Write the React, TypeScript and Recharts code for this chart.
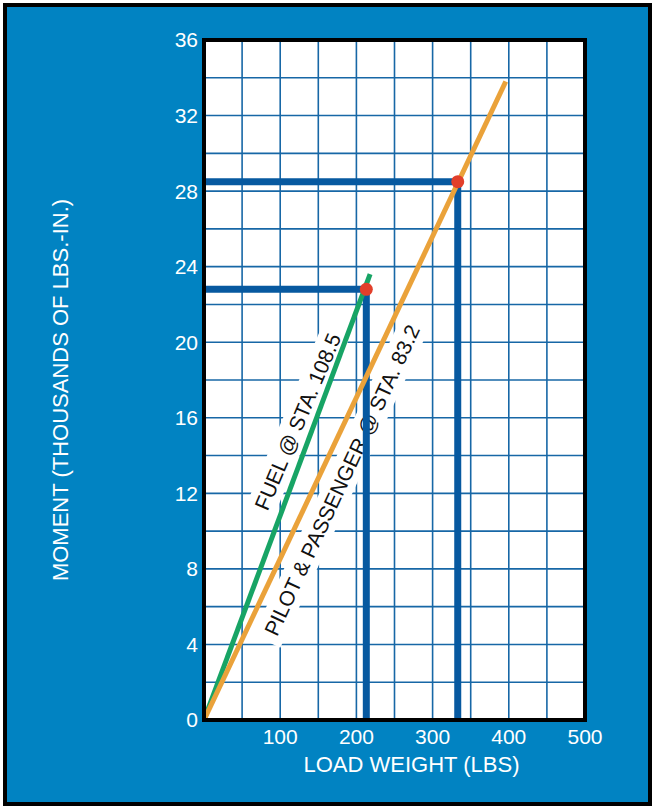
import React from 'react';
import {
  LineChart, Line, XAxis, YAxis, CartesianGrid, ReferenceDot, ReferenceArea, Label,
} from 'recharts';

const xTicks = [0, 50, 100, 150, 200, 250, 300, 350, 400, 450, 500];
const yTicks = [0, 2, 4, 6, 8, 10, 12, 14, 16, 18, 20, 22, 24, 26, 28, 30, 32, 34, 36];
const xLabelTicks = [100, 200, 300, 400, 500];
const yLabelTicks = [0, 4, 8, 12, 16, 20, 24, 28, 32, 36];

const fuelWeights = [0, 218];
const fuelMoments = [0, 23.6];
const pilotWeights = [0, 396];
const pilotMoments = [0, 33.8];

const fuelPointWeight = 213;
const fuelPointMoment = 22.8;
const pilotPointWeight = 333;
const pilotPointMoment = 28.5;

const fuelLabel = 'FUEL @ STA. 108.5';
const pilotLabel = 'PILOT & PASSENGER @ STA. 83.2';
const fuelLabelAt = { w: 123, m: 15.8 };
const pilotLabelAt = { w: 181, m: 12.7 };

const toRows = (ws: number[], ms: number[]) => ws.map((w, i) => ({ w, m: ms[i] }));
const fuelData = toRows(fuelWeights, fuelMoments);
const pilotData = toRows(pilotWeights, pilotMoments);
const fuelGuide = toRows([0, fuelPointWeight, fuelPointWeight], [fuelPointMoment, fuelPointMoment, 0]);
const pilotGuide = toRows([0, pilotPointWeight, pilotPointWeight], [pilotPointMoment, pilotPointMoment, 0]);

const FONT = '"Liberation Sans", Arial, Helvetica, sans-serif';
const BLUE_BG = '#0183c2';
const GRID = '#1767a6';
const GUIDE = '#0759a0';
const GREEN = '#17a465';
const ORANGE = '#eaa23a';
const RED = '#e23f2a';

const makeTextShape = (text: string, angle: number, boxW: number) => (props: any) => {
  const { cx, cy } = props;
  return (
    <g transform={`rotate(${angle}, ${cx}, ${cy})`}>
      <rect x={cx - boxW / 2} y={cy - 15} width={boxW} height={30} fill="#ffffff" />
      <text
        x={cx}
        y={cy}
        textAnchor="middle"
        dominantBaseline="central"
        fontFamily={FONT}
        fontSize={21}
        fill="#111111"
      >
        {text}
      </text>
    </g>
  );
};

const YTitle = (props: any) => {
  const vb = props.viewBox;
  const x = 60;
  const y = vb.y + vb.height / 2 + 10;
  return (
    <text
      x={x}
      y={y}
      transform={`rotate(-90, ${x}, ${y})`}
      textAnchor="middle"
      dominantBaseline="central"
      fontFamily={FONT}
      fontSize={22}
      fill="#ffffff"
    >
      MOMENT (THOUSANDS OF LBS.-IN.)
    </text>
  );
};

const XTitle = (props: any) => {
  const vb = props.viewBox;
  const x = vb.x + vb.width / 2 + 17;
  const y = 764;
  return (
    <text
      x={x}
      y={y}
      textAnchor="middle"
      dominantBaseline="central"
      fontFamily={FONT}
      fontSize={22}
      fill="#ffffff"
    >
      LOAD WEIGHT (LBS)
    </text>
  );
};

export default function App() {
  return (
    <div style={{ position: 'absolute', left: 0, top: 0, width: 652, height: 806, background: '#ffffff' }}>
      <div
        style={{
          position: 'absolute', left: 3, top: 3, width: 649, height: 803,
          boxSizing: 'border-box', border: '4px solid #000', background: BLUE_BG,
        }}
      />
      <div style={{ position: 'absolute', left: 0, top: 0 }}>
        <LineChart
          width={652}
          height={806}
          margin={{ top: 40, right: 67, left: 54, bottom: 26 }}
        >
          <CartesianGrid
            fill="#ffffff"
            stroke={GRID}
            strokeWidth={1.6}
            strokeOpacity={1}
            zIndex={-100}
          />
          <XAxis
            type="number"
            dataKey="w"
            domain={[0, 500]}
            ticks={xTicks}
            interval={0}
            allowDataOverflow
            height={60}
            axisLine={false}
            tickLine={false}
            tickSize={0}
            tickMargin={9}
            tickFormatter={(v: number) => (xLabelTicks.includes(v) ? String(v) : '')}
            tick={{ fill: '#ffffff', fontSize: 21, fontFamily: FONT }}
          >
            <Label content={<XTitle />} />
          </XAxis>
          <YAxis
            type="number"
            dataKey="m"
            domain={[0, 36]}
            ticks={yTicks}
            interval={0}
            allowDataOverflow
            width={150}
            axisLine={false}
            tickLine={false}
            tickSize={0}
            tickMargin={6}
            tickFormatter={(v: number) => (yLabelTicks.includes(v) ? String(v) : '')}
            tick={{ fill: '#ffffff', fontSize: 21, fontFamily: FONT }}
          >
            <Label content={<YTitle />} />
          </YAxis>
          <ReferenceDot
            x={fuelLabelAt.w}
            y={fuelLabelAt.m}
            r={1}
            zIndex={-50}
            shape={makeTextShape(fuelLabel, -67, 204)}
          />
          <ReferenceDot
            x={pilotLabelAt.w}
            y={pilotLabelAt.m}
            r={1}
            zIndex={-50}
            shape={makeTextShape(pilotLabel, -65, 356)}
          />
          <Line
            data={fuelGuide}
            dataKey="m"
            stroke={GUIDE}
            strokeWidth={7}
            strokeLinejoin="miter"
            dot={false}
            activeDot={false}
            isAnimationActive={false}
          />
          <Line
            data={pilotGuide}
            dataKey="m"
            stroke={GUIDE}
            strokeWidth={7}
            strokeLinejoin="miter"
            dot={false}
            activeDot={false}
            isAnimationActive={false}
          />
          <Line
            data={fuelData}
            dataKey="m"
            stroke={GREEN}
            strokeWidth={5}
            dot={false}
            activeDot={false}
            isAnimationActive={false}
          />
          <Line
            data={pilotData}
            dataKey="m"
            stroke={ORANGE}
            strokeWidth={5}
            dot={false}
            activeDot={false}
            isAnimationActive={false}
          />
          <ReferenceDot x={fuelPointWeight} y={fuelPointMoment} r={6.5} fill={RED} stroke="none" zIndex={700} />
          <ReferenceDot x={pilotPointWeight} y={pilotPointMoment} r={6.5} fill={RED} stroke="none" zIndex={700} />
          <ReferenceArea
            x1={0}
            x2={500}
            y1={0}
            y2={36}
            fill="none"
            fillOpacity={0}
            stroke="#000000"
            strokeWidth={4}
            ifOverflow="visible"
            zIndex={800}
          />
        </LineChart>
      </div>
    </div>
  );
}
